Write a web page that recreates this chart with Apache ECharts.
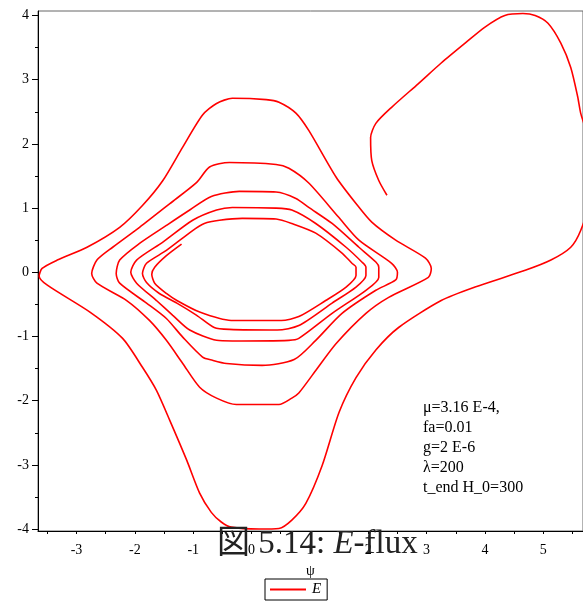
<!DOCTYPE html>
<html>
<head>
<meta charset="utf-8">
<script src="https://cdn.jsdelivr.net/npm/echarts@6/dist/echarts.min.js"></script>
<style>html,body{margin:0;padding:0;background:#fff}#c{width:583px;height:605px}</style>
</head>
<body>
<div id="c"></div>
<script>
// Phase-space spiral (psi, E), traced from inside outwards
const loop1 = [[-1.20,0.44],[-1.46,0.26],[-1.66,0.08],[-1.71,-0.03],[-1.66,-0.17],[-1.46,-0.33],[-1.28,-0.44],[-0.89,-0.62],[-0.35,-0.75],[0.51,-0.75],[0.81,-0.69],[1.27,-0.44],[1.62,-0.23],[1.79,-0.05],[1.79,0.08],[1.72,0.14],[1.55,0.30],[1.10,0.61],[0.69,0.76],[0.42,0.83],[-0.16,0.84],[-0.55,0.81],[-0.81,0.76],[-1.01,0.65]];
const loop2 = [[-1.46,0.34],[-1.80,0.14],[-1.87,-0.02],[-1.80,-0.16],[-1.58,-0.33],[-1.28,-0.48],[-0.94,-0.67],[-0.64,-0.86],[-0.38,-0.89],[0.44,-0.90],[0.81,-0.83],[1.38,-0.48],[1.79,-0.23],[1.96,-0.05],[1.96,0.08],[1.89,0.16],[1.62,0.39],[1.10,0.76],[0.69,0.97],[0.42,1.00],[-0.33,1.01],[-0.60,0.97],[-1.01,0.81]];
const loop3 = [[-1.52,0.47],[-1.97,0.19],[-2.07,0.00],[-1.97,-0.17],[-1.63,-0.44],[-1.35,-0.67],[-1.06,-0.90],[-0.60,-1.06],[-0.33,-1.07],[0.64,-1.06],[0.81,-1.03],[1.38,-0.64],[1.96,-0.28],[2.18,-0.08],[2.18,0.08],[2.13,0.16],[1.84,0.39],[1.38,0.76],[0.98,1.01],[0.76,1.15],[0.42,1.25],[-0.21,1.26],[-0.69,1.18],[-1.06,0.97]];
const loop4 = [[-1.46,0.73],[-1.92,0.45],[-2.26,0.19],[-2.32,-0.02],[-2.26,-0.17],[-1.80,-0.48],[-1.46,-0.72],[-1.18,-1.01],[-0.84,-1.32],[-0.67,-1.37],[-0.43,-1.42],[0.18,-1.45],[0.73,-1.36],[1.10,-1.06],[1.55,-0.64],[2.13,-0.28],[2.47,-0.12],[2.50,0.00],[2.40,0.14],[1.84,0.50],[1.49,0.86],[0.98,1.39],[0.64,1.62],[0.42,1.68],[-0.38,1.71],[-0.72,1.64],[-0.94,1.40]];
const loop5 = [[-1.40,1.07],[-1.92,0.70],[-2.38,0.39],[-2.65,0.19],[-2.74,-0.02],[-2.65,-0.17],[-2.14,-0.44],[-1.75,-0.75],[-1.46,-1.06],[-1.18,-1.42],[-0.89,-1.79],[-0.60,-1.96],[-0.26,-2.06],[0.47,-2.06],[0.69,-1.96],[0.81,-1.88],[1.10,-1.53],[1.45,-1.11],[1.96,-0.64],[2.35,-0.39],[3.03,-0.08],[3.08,0.06],[2.98,0.22],[2.47,0.50],[2.06,0.78],[1.79,1.07],[1.45,1.48],[0.98,2.21],[0.76,2.48],[0.47,2.65],[0.25,2.69],[-0.33,2.71],[-0.60,2.63],[-0.84,2.45]];
const loop6 = [[-1.18,1.95],[-1.52,1.43],[-1.87,1.04],[-2.26,0.70],[-2.82,0.39],[-3.33,0.19],[-3.59,0.06],[-3.64,-0.06],[-3.50,-0.20],[-2.77,-0.62],[-2.21,-1.03],[-1.87,-1.48],[-1.63,-1.84],[-1.40,-2.31],[-1.11,-2.93],[-0.89,-3.44],[-0.69,-3.74],[-0.52,-3.89],[-0.35,-3.97],[0.13,-4.00],[0.47,-3.99],[0.69,-3.86],[0.93,-3.60],[1.21,-3.01],[1.50,-2.18],[1.79,-1.64],[2.13,-1.21],[2.52,-0.86],[3.25,-0.44],[3.83,-0.23],[4.69,0.03],[5.13,0.19],[5.47,0.39],[5.64,0.65],[5.79,1.12],[5.85,1.67],[5.73,2.21],[5.64,2.48],[5.59,2.73],[5.47,3.19],[5.30,3.57],[5.08,3.88],[4.86,4.00],[4.65,4.03],[4.34,4.00],[4.00,3.82],[3.66,3.57],[3.25,3.26],[2.86,2.94],[2.40,2.57],[2.13,2.32],[2.04,2.10],[2.06,1.74],[2.18,1.43],[2.32,1.20]];

const xLabels = [-3,-2,-1,0,1,2,3,4,5];
const xTicks = [-3.5,-3,-2.5,-2,-1.5,-1,-0.5,0,0.5,1,1.5,2,2.5,3,3.5,4,4.5,5,5.5];
const yLabels = [-4,-3,-2,-1,0,1,2,3,4];
const yMinorTicks = [-3.5,-2.5,-1.5,-0.5,0.5,1.5,2.5,3.5];
const annotation = ['μ=3.16 E-4,','fa=0.01','g=2 E-6','λ=200','t_end H_0=300'];
const xMin = -3.66, xMax = 5.68, yMin = -4.03, yMax = 4.07;

const spiral = [].concat(loop1, loop2, loop3, loop4, loop5, loop6);
const serif = '"Liberation Serif", "Times New Roman", serif';
const fmt = v => (v < 0 ? '-' + Math.abs(v) : String(v));

const chart = echarts.init(document.getElementById('c'), null, {renderer: 'canvas'});
chart.setOption({
  animation: false,
  backgroundColor: '#fff',
  grid: {left: 38, top: 11, right: -2, bottom: 74, show: true, borderColor: '#666', borderWidth: 1},
  xAxis: [{
    type: 'value', min: xMin, max: xMax,
    axisLine: {show: true, onZero: false, lineStyle: {color: '#000', width: 1}},
    axisTick: {show: true, customValues: xTicks, length: 3, lineStyle: {color: '#000'}},
    axisLabel: {customValues: xLabels, formatter: fmt, fontFamily: serif, fontSize: 14, color: '#000', margin: 12},
    splitLine: {show: false},
    name: 'ψ', nameLocation: 'middle', nameGap: 33,
    nameTextStyle: {fontFamily: serif, fontSize: 14, color: '#000'}
  }],
  yAxis: [{
    type: 'value', min: yMin, max: yMax, position: 'left',
    axisLine: {show: true, onZero: false, lineStyle: {color: '#000', width: 1}},
    axisTick: {show: true, customValues: yLabels, length: 6, lineStyle: {color: '#000'}},
    axisLabel: {customValues: yLabels, formatter: fmt, fontFamily: serif, fontSize: 14, color: '#000', margin: 9},
    splitLine: {show: false}
  }, {
    type: 'value', min: yMin, max: yMax, position: 'left', offset: 0,
    axisLine: {show: false, onZero: false},
    axisTick: {show: true, customValues: yMinorTicks, length: 3, lineStyle: {color: '#000'}},
    axisLabel: {show: false},
    splitLine: {show: false}
  }],
  legend: {
    left: 265, top: 579, padding: [3, 6, 3, 5],
    borderColor: '#000', borderWidth: 1, itemWidth: 36, itemHeight: 2, itemGap: 4,
    icon: 'rect',
    itemStyle: {color: '#ff0000'},
    textStyle: {fontFamily: serif, fontStyle: 'italic', fontSize: 15, color: '#000', padding: [0, 0, 0, 1]},
    data: [{name: 'E', icon: 'rect'}]
  },
  series: [{
    name: 'E', type: 'line', data: spiral, xAxisIndex: 0, yAxisIndex: 0,
    symbol: 'none', showSymbol: false, smooth: 0.25, clip: true,
    lineStyle: {color: '#ff0000', width: 1.6}, itemStyle: {color: '#ff0000'}
  }],
  graphic: [{
    type: 'text', left: 423, top: 398, silent: true,
    style: {text: annotation.join('\n'), font: '16px ' + serif, fill: '#000', lineHeight: 20}
  }, {
    type: 'text', left: 217, top: 528, silent: true, z: 100,
    style: {
      text: '{a|図 5.14: }{b|E}{a|-flux}',
      fill: '#222',
      rich: {
        a: {fontFamily: serif + ', "Noto Sans CJK JP"', fontSize: 33, fill: '#222'},
        b: {fontFamily: serif, fontStyle: 'italic', fontSize: 33, fill: '#222'}
      }
    }
  }]
});
</script>
</body>
</html>
